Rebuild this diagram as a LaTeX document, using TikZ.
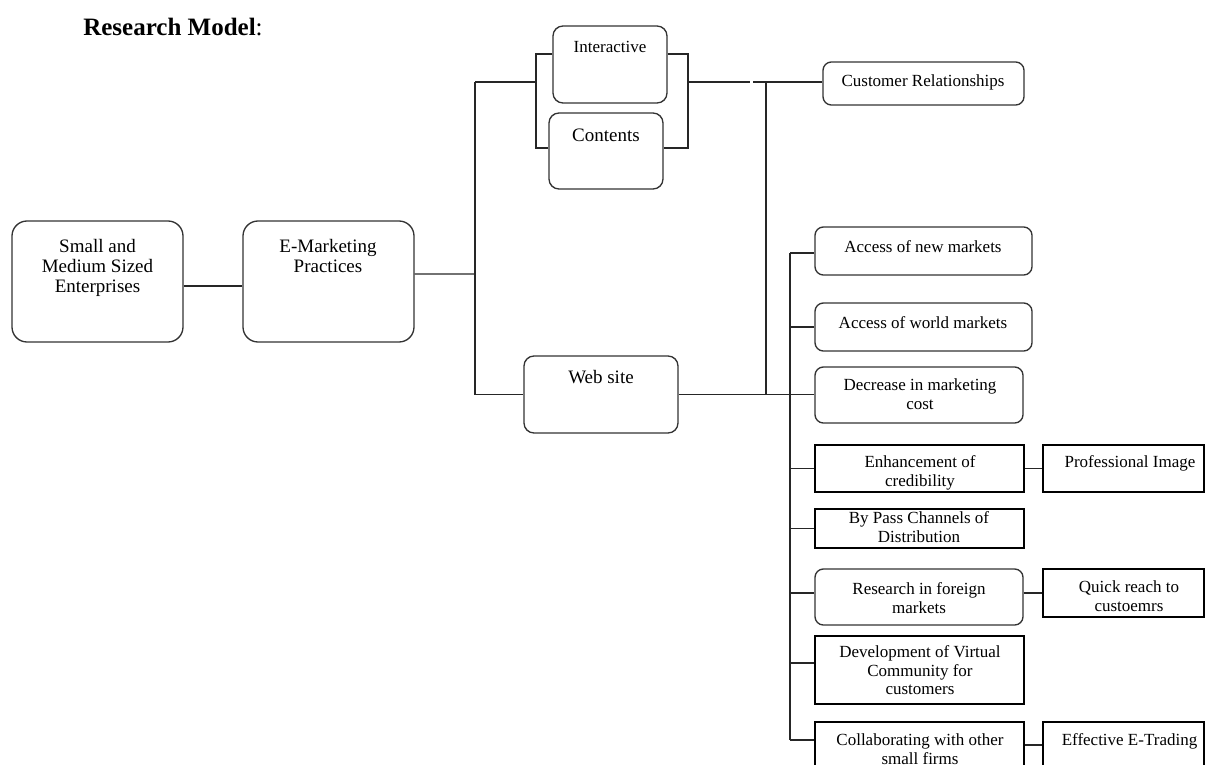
\documentclass[tikz,border=0pt]{standalone}
\usepackage{fontspec}
\setmainfont{Liberation Serif}
\usetikzlibrary{fit,calc}
\begin{document}
\begin{tikzpicture}[x=0.6pt,y=-0.6pt,
  rbox/.style={draw=black!80,line width=0.8pt,rounded corners=#1,inner sep=0pt},
  rbox/.default=5pt,
  sbox/.style={draw=black,line width=0.8pt,inner sep=0pt},
  conn/.style={draw=black!85,line width=0.8pt},
  lbl/.style={anchor=north,inner sep=0pt,align=center,font=\fontsize{10.2}{11.2}\selectfont},
  big/.style={anchor=north,inner sep=0pt,align=center,font=\fontsize{11.4}{12}\selectfont}]
\useasboundingbox (0,0) rectangle (1205,765);
\clip (0,0) rectangle (1205,765);

% title
\node[anchor=base west,inner sep=0pt,font=\fontsize{15}{18}\selectfont] (title) at (83,35) {\textbf{Research Model}:};

% boxes
\node[rbox=9pt,fit={(12,221)(183,342)}] (sme) {};
\node[rbox=9pt,fit={(243,221)(414,342)}] (em) {};
\node[rbox=6pt,fit={(553,26)(667,103)}] (int) {};
\node[rbox=6pt,fit={(549,113)(663,189)}] (con) {};
\node[rbox=6pt,fit={(524,356)(678,433)}] (web) {};
\node[rbox=5pt,fit={(823,62)(1024,105)}] (cr) {};
\node[rbox=5pt,fit={(815,227)(1032,275)}] (anm) {};
\node[rbox=5pt,fit={(815,303)(1032,351)}] (world) {};
\node[rbox=5pt,fit={(815,367)(1023,423)}] (dec) {};
\node[sbox,fit={(815,445)(1024,492)}] (enh) {};
\node[sbox,fit={(1043,445)(1204,492)}] (prof) {};
\node[sbox,fit={(815,509)(1024,548)}] (bypass) {};
\node[rbox=5pt,fit={(815,569)(1023,625)}] (res) {};
\node[sbox,fit={(1043,569)(1204,617)}] (quick) {};
\node[sbox,fit={(815,636)(1024,704)}] (dev) {};
\node[sbox,fit={(815,722)(1024,800)}] (collab) {};
\node[sbox,fit={(1043,722)(1204,800)}] (eff) {};

% labels
\node[big] (tsme) at (97.5,238) {\strut Small and\\Medium Sized\\Enterprises};
\node[big] (tem) at (328,238) {\strut E-Marketing\\Practices};
\node[lbl] (tint) at (610,39) {\strut Interactive};
\node[big] (tcon) at (606,127) {\strut Contents};
\node[big] (tweb) at (601,369) {\strut Web site};
\node[lbl] (tcr) at (923,73) {\strut Customer Relationships};
\node[lbl] (tanm) at (923,239) {\strut Access of new markets};
\node[lbl] (tworld) at (923,315) {\strut Access of world markets};
\node[lbl] (tdec) at (920,377) {\strut Decrease in marketing\\cost};
\node[lbl] (tenh) at (920,454) {\strut Enhancement of\\credibility};
\node[lbl] (tprof) at (1130,454) {\strut Professional Image};
\node[lbl] (tbyp) at (919,510) {\strut By Pass Channels of\\Distribution};
\node[lbl] (tres) at (919,581) {\strut Research in foreign\\markets};
\node[lbl] (tquick) at (1129,579) {\strut Quick reach to\\custoemrs};
\node[lbl] (tdev) at (920,644) {\strut Development of Virtual\\Community for\\customers};
\node[lbl] (tcol) at (920,732) {\strut Collaborating with other\\small firms};
\node[lbl] (teff) at (1129.5,732) {\strut Effective E-Trading};

% junction coordinates
\coordinate (tr) at (475,274);
\coordinate (trtop) at (475,82);
\coordinate (trbot) at (475,394.5);
\coordinate (lbt) at (536,54);
\coordinate (lbm) at (536,82);
\coordinate (lbb) at (536,148);
\coordinate (rbt) at (688,54);
\coordinate (rbm) at (688,82);
\coordinate (rbb) at (688,148);
\coordinate (gapa) at (750,82);
\coordinate (gapb) at (753,82);
\coordinate (vt) at (766,82);
\coordinate (vb) at (766,394.5);
\coordinate (bt) at (790,253);
\coordinate (bb) at (790,740);
\coordinate (resy) at (790,593);
\coordinate (devy) at (790,663);
\coordinate (effy) at (1030,745);

% connectors
\draw[conn] ([yshift=-2.7pt]sme.east) -- ([yshift=-2.7pt]em.west);
\draw[conn] ([yshift=4.5pt]em.east) -- (tr);
\draw[conn] (trtop) -- (trbot) -- (web.west);
\draw[conn] (trtop) -- (lbm);
\draw[conn] (int.west |- lbt) -- (lbt) -- (lbb) -- (con.west |- lbb);
\draw[conn] (int.east |- rbt) -- (rbt) -- (rbb) -- (con.east |- rbb);
\draw[conn] (rbm) -- (gapa);
\draw[conn] (gapb) -- (cr.west |- gapb);
\draw[conn] (vt) -- (vb);
\draw[conn] (web.east) -- (dec.west |- web.east);
\draw[conn] (bt) -- (bb);
\draw[conn] (bt) -- (anm.west |- bt);
\draw[conn] (bt |- world.west) -- (world.west);
\draw[conn] (bt |- enh.west) -- (enh.west);
\draw[conn] (bt |- bypass.west) -- (bypass.west);
\draw[conn] (resy) -- (res.west |- resy);
\draw[conn] (devy) -- (dev.west |- devy);
\draw[conn] (bb) -- (collab.west |- bb);
\draw[conn] (enh.east) -- (prof.west);
\draw[conn] (res.east |- quick.west) -- (quick.west);
\draw[conn] (collab.east |- effy) -- (eff.west |- effy);
\end{tikzpicture}
\end{document}
